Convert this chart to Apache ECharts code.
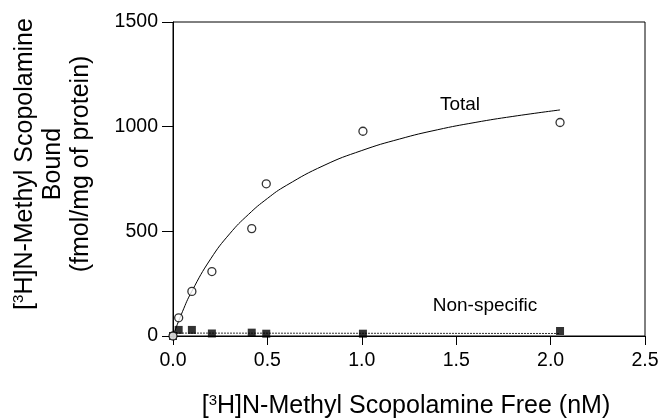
<!DOCTYPE html>
<html>
<head>
<meta charset="utf-8">
<script src="https://cdn.jsdelivr.net/npm/echarts@6/dist/echarts.min.js"></script>
<style>
  html, body { margin: 0; padding: 0; background: #fff; }
  #chart { width: 664px; height: 419px; }
</style>
</head>
<body>
<div id="chart"></div>
<script>
// measured points, total binding (open circles)
var totalX = [0, 0.03, 0.10, 0.206, 0.417, 0.494, 1.006, 2.05];
var totalY = [0, 87, 213, 308, 513, 727, 978, 1020];

// non-specific binding (filled squares)
var nonspecX = [0, 0.03, 0.10, 0.206, 0.417, 0.494, 1.006, 2.05];
var nonspecY = [0, 29, 29, 12, 16, 11, 11, 24];

// points
var fitX = [0, 0.05, 0.1, 0.2, 0.3, 0.4, 0.5, 0.6, 0.8, 1.0, 1.2, 1.4, 1.6, 1.8, 2.05];
var fitY = [0, 116, 214, 369, 488, 581, 657, 719, 815, 886, 941, 985, 1020, 1049, 1080];

// non-specific fit line (end points)
var nsLineX = [0, 2.05];
var nsLineY = [14, 12];

var xTicks = [0, 0.5, 1.0, 1.5, 2.0, 2.5];
var yTicks = [0, 500, 1000, 1500];

function pairs(xs, ys) {
    var out = [];
    for (var i = 0; i < xs.length; i++) out.push([xs[i], ys[i]]);
    return out;
}

var font = '"Liberation Sans", Arial, sans-serif';
var chart = echarts.init(document.getElementById('chart'));

var option = {
    backgroundColor: '#fff',
    animation: false,
    grid: {
        left: 173, right: 19, top: 22, bottom: 83,
        show: true, borderColor: '#000', borderWidth: 1, backgroundColor: 'transparent'
    },
    xAxis: {
        type: 'value',
        min: xTicks[0], max: xTicks[xTicks.length - 1], interval: 0.5,
        axisLine: { lineStyle: { color: '#000', width: 1 } },
        axisTick: { show: true, inside: false, length: 9, lineStyle: { color: '#000' } },
        axisLabel: {
            color: '#000', fontSize: 19.5, fontFamily: font, margin: 15,
            formatter: function (v) { return v.toFixed(1); }
        },
        splitLine: { show: false }
    },
    yAxis: {
        type: 'value',
        min: yTicks[0], max: yTicks[yTicks.length - 1], interval: 500,
        axisLine: { show: true, lineStyle: { color: '#000', width: 1 } },
        axisTick: { show: true, inside: false, length: 11, lineStyle: { color: '#000' } },
        axisLabel: {
            color: '#000', fontSize: 19.5, fontFamily: font, margin: 15,
            formatter: function (v) { return String(v); }
        },
        splitLine: { show: false }
    },
    series: [{
        name: 'Total fit',
        type: 'line',
        smooth: true,
        showSymbol: false,
        data: pairs(fitX, fitY),
        lineStyle: { color: '#000', width: 1 },
        z: 2
    }, {
        name: 'Non-specific fit',
        type: 'line',
        showSymbol: false,
        data: pairs(nsLineX, nsLineY),
        lineStyle: { color: '#333', width: 1, type: [2, 1] },
        z: 2
    }, {
        name: 'Non-specific',
        type: 'scatter',
        symbol: 'rect',
        symbolSize: 8,
        data: pairs(nonspecX, nonspecY),
        itemStyle: { color: '#000' },
        z: 3
    }, {
        name: 'Total',
        type: 'scatter',
        symbol: 'circle',
        symbolSize: 8,
        data: pairs(totalX, totalY),
        itemStyle: { color: '#fff', borderColor: '#000', borderWidth: 1.3 },
        z: 4
    }],
    graphic: [{
        type: 'text', x: 460, y: 105,
        style: { text: 'Total', fontSize: 19, fontFamily: font, fill: '#000', align: 'center', verticalAlign: 'middle' }
    }, {
        type: 'text', x: 485, y: 306,
        style: { text: 'Non-specific', fontSize: 19, fontFamily: font, fill: '#000', align: 'center', verticalAlign: 'middle' }
    }, {
        type: 'text', x: 406, y: 406,
        style: {
            text: '[{sup|3}H]N-Methyl Scopolamine Free (nM)',
            fontSize: 25, fontFamily: font, fill: '#000', align: 'center', verticalAlign: 'middle',
            rich: { sup: { fontSize: 15, fontFamily: font, fill: '#000', verticalAlign: 'top' } }
        }
    }, {
        type: 'text', x: 53, y: 164, rotation: Math.PI / 2,
        style: {
            text: '[{sup|3}H]N-Methyl Scopolamine\nBound\n(fmol/mg of protein)',
            fontSize: 25, lineHeight: 28, fontFamily: font, fill: '#000', align: 'center', verticalAlign: 'middle',
            rich: { sup: { fontSize: 15, fontFamily: font, fill: '#000', verticalAlign: 'top' } }
        }
    }]
};

chart.setOption(option);
</script>
</body>
</html>
